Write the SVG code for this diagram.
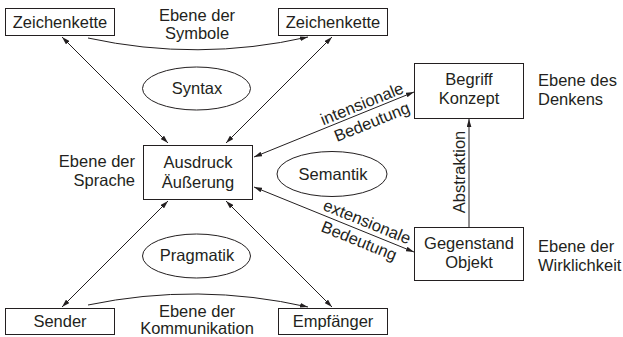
<svg xmlns="http://www.w3.org/2000/svg" width="623" height="337" viewBox="0 0 623 337">
<style>
text{font-family:"Liberation Sans",Arial,sans-serif;font-size:16.5px;fill:#231f20}
.c{text-anchor:middle}
.e{text-anchor:end}
.box{fill:#fff;stroke:#231f20;stroke-width:1}
.ell{fill:none;stroke:#231f20;stroke-width:1}
.ln{fill:none;stroke:#231f20;stroke-width:1}
</style>
<defs>
<marker id="ah" viewBox="0 0 10 6" refX="10" refY="3" markerWidth="8" markerHeight="5" markerUnits="userSpaceOnUse" orient="auto-start-reverse">
<path d="M0,0 L10,3 L0,6 Z" fill="#231f20"/>
</marker>
</defs>
<rect width="623" height="337" fill="#fff"/>
<g id="connectors">
<path class="ln" d="M88,38 Q198,62 308,37" marker-end="url(#ah)"/>
<path class="ln" d="M88,305 Q198,282 308,307" marker-end="url(#ah)"/>
<line class="ln" x1="62" y1="37" x2="168" y2="143" marker-start="url(#ah)" marker-end="url(#ah)"/>
<line class="ln" x1="332" y1="37" x2="226" y2="143" marker-start="url(#ah)" marker-end="url(#ah)"/>
<line class="ln" x1="62" y1="307" x2="168" y2="201" marker-start="url(#ah)" marker-end="url(#ah)"/>
<line class="ln" x1="332" y1="307" x2="226" y2="201" marker-start="url(#ah)" marker-end="url(#ah)"/>
<line class="ln" x1="254" y1="157" x2="414" y2="92" marker-start="url(#ah)" marker-end="url(#ah)"/>
<line class="ln" x1="254" y1="187" x2="414" y2="252" marker-start="url(#ah)" marker-end="url(#ah)"/>
<line class="ln" x1="469" y1="227" x2="469" y2="119" marker-end="url(#ah)"/>
<text transform="translate(364,109) rotate(-22.1)" class="c">intensionale</text>
<text transform="translate(374,127) rotate(-22.1)" class="c">Bedeutung</text>
<text transform="translate(365,227) rotate(22.1)" class="c">extensionale</text>
<text transform="translate(357,246) rotate(22.1)" class="c">Bedeutung</text>
<text transform="translate(465,172) rotate(-90)" class="c">Abstraktion</text>
</g>
<g id="zeichenkette1"><rect class="box" x="5.5" y="8.5" width="109" height="27"/><text class="c" x="60" y="28">Zeichenkette</text></g>
<g id="zeichenkette2"><rect class="box" x="278.5" y="8.5" width="109" height="27"/><text class="c" x="333" y="28">Zeichenkette</text></g>
<g id="ebene-symbole"><text class="c" x="197" y="21">Ebene der</text><text class="c" x="197" y="39">Symbole</text></g>
<g id="syntax"><ellipse class="ell" cx="196.5" cy="88.5" rx="54" ry="21.5"/><text class="c" x="197" y="94">Syntax</text></g>
<g id="ausdruck"><rect class="box" x="143.5" y="145.5" width="109" height="54"/><text class="c" x="198" y="168">Ausdruck</text><text class="c" x="198" y="188">Äußerung</text></g>
<g id="ebene-sprache"><text class="e" x="135" y="167">Ebene der</text><text class="e" x="135" y="186">Sprache</text></g>
<g id="semantik"><ellipse class="ell" cx="332" cy="174" rx="55" ry="22.5"/><text class="c" x="333" y="180">Semantik</text></g>
<g id="begriff"><rect class="box" x="414.5" y="63.5" width="109" height="55"/><text class="c" x="469" y="85">Begriff</text><text class="c" x="469" y="104">Konzept</text></g>
<g id="ebene-denken"><text x="538" y="86">Ebene des</text><text x="538" y="105">Denkens</text></g>
<g id="gegenstand"><rect class="box" x="414.5" y="227.5" width="109" height="53"/><text class="c" x="469" y="249">Gegenstand</text><text class="c" x="469" y="268">Objekt</text></g>
<g id="ebene-wirklichkeit"><text x="538" y="252">Ebene der</text><text x="538" y="271">Wirklichkeit</text></g>
<g id="pragmatik"><ellipse class="ell" cx="196.5" cy="256" rx="54" ry="22"/><text class="c" x="197" y="261">Pragmatik</text></g>
<g id="sender"><rect class="box" x="5.5" y="308.5" width="109" height="26"/><text class="c" x="60" y="327">Sender</text></g>
<g id="empfaenger"><rect class="box" x="278.5" y="308.5" width="109" height="26"/><text class="c" x="333" y="327">Empfänger</text></g>
<g id="ebene-kommunikation"><text class="c" x="197" y="317">Ebene der</text><text class="c" x="197" y="334">Kommunikation</text></g>
</svg>
